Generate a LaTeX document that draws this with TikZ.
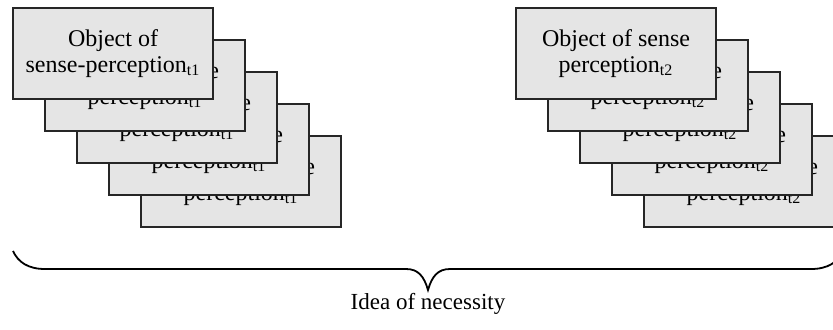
\documentclass[tikz,border=0pt]{standalone}
\usepackage{fontspec}
\setmainfont{Liberation Serif}
\begin{document}
\begin{tikzpicture}[x=0.5pt,y=-0.5pt,
  card/.style={draw=black!85, line width=0.6pt, fill=black!10,
    minimum width=100pt, minimum height=45.5pt, inner sep=0pt,
    align=center, font=\fontsize{12}{12.8}\selectfont},
  bracepath/.style={draw=black, line width=0.9pt},
  caption/.style={font=\fontsize{11.5}{13}\selectfont}]
\useasboundingbox (0,0) rectangle (833,329);
\clip (0,0) rectangle (833,329);

% left stack, drawn back to front
\node[card] (l5) at (241,181.5) {Object of sense\\perception\textsubscript{t1}};
\node[card] (l4) at (209,149.5) {Object of sense\\perception\textsubscript{t1}};
\node[card] (l3) at (177,117.5) {Object of sense\\perception\textsubscript{t1}};
\node[card] (l2) at (145,85.5)  {Object of sense\\perception\textsubscript{t1}};
\node[card] (l1) at (113,53.5)  {Object of\\sense-perception\textsubscript{t1}};

% right stack, drawn back to front
\node[card] (r5) at (744,181.5) {Object of sense\\perception\textsubscript{t2}};
\node[card] (r4) at (712,149.5) {Object of sense\\perception\textsubscript{t2}};
\node[card] (r3) at (680,117.5) {Object of sense\\perception\textsubscript{t2}};
\node[card] (r2) at (648,85.5)  {Object of sense\\perception\textsubscript{t2}};
\node[card] (r1) at (616,53.5)  {Object of sense\\perception\textsubscript{t2}};

% brace under both stacks
\coordinate (bl) at (13,251);
\coordinate (br) at (843,251);
\coordinate (tip) at (428,290);
\draw[bracepath] (bl) .. controls (18,262) and (28,269) .. (45,269)
  -- (406,269) .. controls (418,269) and (424,276) .. (tip)
  .. controls (432,276) and (438,269) .. (450,269)
  -- (811,269) .. controls (828,269) and (838,262) .. (br);

\node[caption] (idea) at (428,304) {Idea of necessity};
\end{tikzpicture}
\end{document}
